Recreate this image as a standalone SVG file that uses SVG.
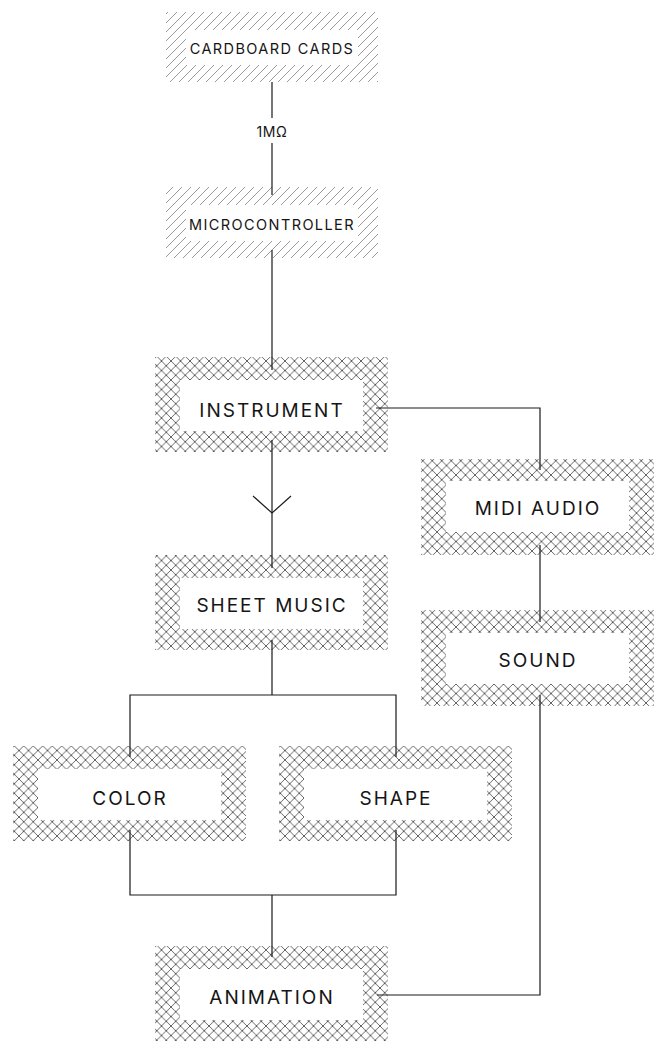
<svg xmlns="http://www.w3.org/2000/svg" width="656" height="1045" viewBox="0 0 656 1045">
<defs>
<pattern id="diag" width="9" height="9" patternUnits="userSpaceOnUse">
<path d="M-1,10 L10,-1 M-1,1 L1,-1 M8,10 L10,8" stroke="#808080" stroke-width="0.8" fill="none"/>
</pattern>
<pattern id="cross" width="9.5" height="9.5" patternUnits="userSpaceOnUse">
<path d="M0,0 L9.5,9.5 M9.5,0 L0,9.5" stroke="#4a4a4a" stroke-width="0.85" fill="none"/>
</pattern>
</defs>
<style>
.lbl{font-family:Inter,"Liberation Sans",sans-serif;fill:#151515;text-anchor:middle;dominant-baseline:central}
.big{font-size:19px;letter-spacing:2px}
.small{font-size:14.5px;letter-spacing:1.4px}
.conn{stroke:#1a1a1a;stroke-width:1.2;fill:none}
.inner{fill:#fff}
</style>
<rect width="656" height="1045" fill="#fff"/>

<g id="cardboard">
<rect x="166" y="12" width="212" height="70" fill="url(#diag)"/>
<rect class="inner" x="186" y="30" width="172" height="35"/>
<text class="lbl small" x="272" y="48">CARDBOARD CARDS</text>
</g>
<g id="microcontroller">
<rect x="166" y="187" width="212" height="71" fill="url(#diag)"/>
<rect class="inner" x="186" y="205" width="172" height="36"/>
<text class="lbl small" x="272" y="224">MICROCONTROLLER</text>
</g>
<g id="instrument">
<rect x="155" y="357" width="233" height="95" fill="url(#cross)"/>
<rect class="inner" x="180" y="380" width="183" height="51"/>
<text class="lbl big" x="272" y="410">INSTRUMENT</text>
</g>
<g id="midi">
<rect x="421" y="459" width="233" height="96" fill="url(#cross)"/>
<rect class="inner" x="446" y="481" width="183" height="51"/>
<text class="lbl big" x="538" y="508">MIDI AUDIO</text>
</g>
<g id="sheet">
<rect x="155" y="555" width="233" height="95" fill="url(#cross)"/>
<rect class="inner" x="180" y="578" width="183" height="51"/>
<text class="lbl big" x="272" y="605">SHEET MUSIC</text>
</g>
<g id="sound">
<rect x="421" y="610" width="233" height="96" fill="url(#cross)"/>
<rect class="inner" x="446" y="633" width="183" height="51"/>
<text class="lbl big" x="538" y="660">SOUND</text>
</g>
<g id="color">
<rect x="13" y="746" width="233" height="95" fill="url(#cross)"/>
<rect class="inner" x="38" y="769" width="183" height="51"/>
<text class="lbl big" x="130" y="798">COLOR</text>
</g>
<g id="shape">
<rect x="279" y="746" width="233" height="95" fill="url(#cross)"/>
<rect class="inner" x="304" y="769" width="183" height="51"/>
<text class="lbl big" x="396" y="798">SHAPE</text>
</g>
<g id="animation">
<rect x="155" y="946" width="233" height="95" fill="url(#cross)"/>
<rect class="inner" x="180" y="969" width="183" height="51"/>
<text class="lbl big" x="272" y="997">ANIMATION</text>
</g>

<g id="connectors">
<path class="conn" d="M272,82 V118"/>
<text class="lbl" x="272" y="131" font-size="14" letter-spacing="0.6">1MΩ</text>
<path class="conn" d="M272,143 V195"/>
<path class="conn" d="M272,250 V370"/>
<path class="conn" d="M376,408 H540 V470"/>
<path class="conn" d="M272,440 V568"/>
<path class="conn" d="M253,496 L272,513 L291,496"/>
<path class="conn" d="M540,545 V622"/>
<path class="conn" d="M272,640 V695 M130,757 V695 H396 V757"/>
<path class="conn" d="M130,830 V895 H396 V830 M272,895 V957"/>
<path class="conn" d="M540,695 V995 H377"/>
</g>
</svg>
